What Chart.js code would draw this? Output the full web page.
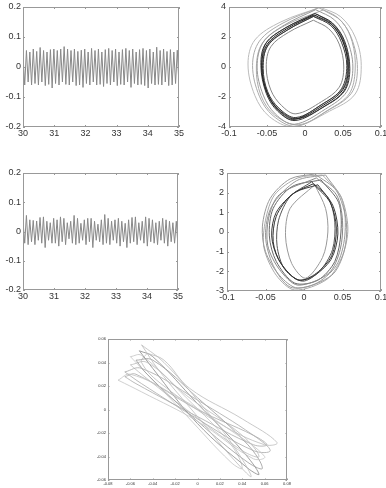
<!DOCTYPE html>
<html>
<head>
<meta charset="utf-8">
<script src="https://cdn.jsdelivr.net/npm/chart.js@4.4.0/dist/chart.umd.min.js"></script>
<style>
  body { margin: 0; background: #fff; }
  #wrap { position: relative; width: 386px; height: 488px; }
  #wrap canvas { position: absolute; left: 0; top: 0; }
</style>
</head>
<body>
<div id="wrap">
  <canvas id="c1" width="386" height="488"></canvas>
  <canvas id="c2" width="386" height="488"></canvas>
  <canvas id="c3" width="386" height="488"></canvas>
  <canvas id="c4" width="386" height="488"></canvas>
  <canvas id="c5" width="386" height="488"></canvas>
</div>
<script>
// tick labels
const tsXTicks = [30, 31, 32, 33, 34, 35];
const tsYTicks = [-0.2, -0.1, 0, 0.1, 0.2];
const phXTicks = [-0.1, -0.05, 0, 0.05, 0.1];
const trYTicks = [-4, -2, 0, 2, 4];
const mrYTicks = [-3, -2, -1, 0, 1, 2, 3];
const bXTicks = [-0.08, -0.06, -0.04, -0.02, 0, 0.02, 0.04, 0.06, 0.08];
const bYTicks = [-0.06, -0.04, -0.02, 0, 0.02, 0.04, 0.06];

// time window of the two time series
const tStart = 30;
const tEnd = 35;

// top-left signal, successive peaks and troughs
const topSignal = [
  0.035,-0.06, 0.055,-0.05, 0.05,-0.06, 0.06,-0.055, 0.052,-0.06, 0.065,-0.05, 0.055,-0.062, 0.05,-0.058, 0.058,-0.07, 0.06,-0.055,
  0.055,-0.06, 0.06,-0.05, 0.068,-0.058, 0.06,-0.06, 0.055,-0.05, 0.06,-0.062, 0.052,-0.06, 0.056,-0.068, 0.06,-0.055, 0.05,-0.06,
  0.062,-0.05, 0.055,-0.06, 0.06,-0.058, 0.05,-0.065, 0.058,-0.055, 0.062,-0.06, 0.055,-0.05, 0.06,-0.062, 0.05,-0.058, 0.058,-0.06,
  0.062,-0.05, 0.055,-0.068, 0.06,-0.055, 0.05,-0.06, 0.058,-0.058, 0.062,-0.062, 0.055,-0.07, 0.06,-0.055, 0.05,-0.06, 0.066,-0.058,
  0.055,-0.06, 0.06,-0.05, 0.052,-0.062, 0.058,-0.06, 0.05,-0.055, 0.056,-0.062
];

// middle-left signal
const midSignal = [
  0.035,-0.04, 0.055,-0.045, 0.04,-0.035, 0.038,-0.045, 0.036,-0.03, 0.048,-0.04, 0.05,-0.055, 0.035,-0.03, 0.03,-0.04, 0.045,-0.04,
  0.04,-0.05, 0.05,-0.035, 0.045,-0.045, 0.03,-0.025, 0.035,-0.04, 0.055,-0.045, 0.045,-0.04, 0.028,-0.03, 0.04,-0.045, 0.045,-0.035,
  0.045,-0.055, 0.035,-0.03, 0.025,-0.035, 0.04,-0.045, 0.058,-0.04, 0.045,-0.045, 0.035,-0.03, 0.04,-0.04, 0.045,-0.05, 0.035,-0.035,
  0.028,-0.055, 0.04,-0.04, 0.048,-0.035, 0.05,-0.045, 0.03,-0.03, 0.035,-0.04, 0.05,-0.05, 0.045,-0.035, 0.04,-0.04, 0.03,-0.045,
  0.035,-0.03, 0.045,-0.04, 0.04,-0.05, 0.035,-0.035, 0.03,-0.04, 0.035,-0.05
];

// top-right phase portrait loops [x, y]: rounded tilted square
const trLoops = [
  [[0.012,3.47],[0.035,2.85],[0.05,1.7],[0.057,0.0],[0.05,-1.5],[0.024,-2.55],[-0.013,-3.47],[-0.035,-2.85],[-0.05,-1.7],[-0.057,0.0],[-0.05,1.5],[-0.024,2.55]],
  [[0.013,3.57],[0.036,2.94],[0.052,1.75],[0.059,-0.1],[0.052,-1.6],[0.025,-2.65],[-0.013,-3.57],[-0.036,-2.94],[-0.051,-1.75],[-0.058,0.1],[-0.052,1.55],[-0.025,2.63]],
  [[0.011,3.37],[0.034,2.76],[0.048,1.65],[0.055,0.1],[0.048,-1.45],[0.023,-2.47],[-0.012,-3.37],[-0.034,-2.76],[-0.049,-1.65],[-0.055,-0.1],[-0.049,1.45],[-0.023,2.47]],
  [[0.016,3.5],[0.038,2.8],[0.052,1.6],[0.058,-0.1],[0.051,-1.6],[0.026,-2.6],[-0.01,-3.45],[-0.033,-2.9],[-0.049,-1.8],[-0.056,-0.1],[-0.049,1.4],[-0.022,2.5]],
  [[0.009,3.42],[0.033,2.9],[0.049,1.8],[0.056,0.2],[0.05,-1.4],[0.022,-2.5],[-0.016,-3.5],[-0.037,-2.8],[-0.051,-1.6],[-0.057,0.1],[-0.051,1.6],[-0.026,2.6]],
  [[0.011,3.12],[0.031,2.56],[0.045,1.53],[0.051,0.0],[0.045,-1.35],[0.022,-2.3],[-0.012,-3.12],[-0.031,-2.56],[-0.045,-1.53],[-0.051,0.0],[-0.045,1.35],[-0.022,2.3]],
  [[0.014,3.82],[0.039,3.13],[0.055,1.87],[0.063,0.0],[0.055,-1.65],[0.027,-2.8],[-0.014,-3.82],[-0.039,-3.13],[-0.055,-1.87],[-0.063,0.0],[-0.055,1.65],[-0.027,2.8]],
  [[0.018,3.95],[0.044,3.25],[0.061,1.95],[0.069,-0.1],[0.061,-1.75],[0.03,-2.9],[-0.012,-3.95],[-0.042,-3.25],[-0.06,-1.95],[-0.069,0.1],[-0.06,1.72],[-0.029,2.93]],
  [[0.02,3.98],[0.047,3.35],[0.066,2.0],[0.074,0.1],[0.066,-1.8],[0.032,-2.95],[-0.016,-3.98],[-0.047,-3.3],[-0.066,-1.9],[-0.075,0.2],[-0.066,1.8],[-0.032,3.0]],
  [[0.024,3.8],[0.048,3.05],[0.062,1.7],[0.066,-0.2],[0.058,-1.8],[0.031,-2.85],[-0.008,-3.85],[-0.04,-3.2],[-0.058,-1.9],[-0.064,0.0],[-0.056,1.6],[-0.027,2.75]]
];
const trColors = ['#222', '#333', '#3a3a3a', '#444', '#555', '#888', '#999', '#aaa', '#bbb', '#aaa'];

// middle-right phase portrait loops [x, y]: lens shape, pointed top and bottom
const mrLoops = [
  [[0.012,2.45],[0.034,1.5],[0.042,0.2],[0.036,-1.2],[0.016,-2.1],[-0.007,-2.45],[-0.03,-1.6],[-0.04,-0.5],[-0.036,0.8],[-0.016,1.9]],
  [[0.018,2.4],[0.038,1.3],[0.044,-0.1],[0.035,-1.4],[0.01,-2.3],[-0.01,-2.4],[-0.033,-1.4],[-0.042,-0.2],[-0.036,1.0],[-0.012,2.0]],
  [[0.01,2.55],[0.032,1.7],[0.04,0.5],[0.037,-0.9],[0.02,-2.0],[-0.002,-2.5],[-0.025,-1.9],[-0.035,-0.7],[-0.033,0.6],[-0.018,1.8]],
  [[0.014,2.4],[0.028,1.2],[0.031,0.0],[0.024,-1.3],[0.002,-2.35],[-0.016,-1.6],[-0.024,-0.2],[-0.018,1.2]],
  [[0.014,2.95],[0.042,2.1],[0.055,0.5],[0.052,-1.0],[0.036,-2.2],[-0.008,-2.85],[-0.032,-2.2],[-0.05,-1.0],[-0.054,0.3],[-0.044,1.7],[-0.018,2.7]],
  [[0.024,2.9],[0.048,1.8],[0.057,0.2],[0.05,-1.2],[0.03,-2.4],[-0.012,-2.95],[-0.036,-2.2],[-0.052,-0.8],[-0.05,0.6],[-0.038,1.9],[-0.008,2.75]],
  [[0.016,2.75],[0.042,1.9],[0.05,0.6],[0.047,-0.9],[0.032,-2.1],[-0.008,-2.7],[-0.032,-1.9],[-0.047,-0.7],[-0.046,0.7],[-0.032,1.9]],
  [[0.028,2.9],[0.05,1.6],[0.053,-0.2],[0.042,-1.7],[0.014,-2.65],[-0.018,-2.8],[-0.04,-1.7],[-0.05,-0.2],[-0.042,1.3],[-0.01,2.6]],
  [[0.022,2.65],[0.045,1.5],[0.048,0.0],[0.04,-1.5],[0.018,-2.45],[-0.012,-2.6],[-0.036,-1.5],[-0.045,-0.2],[-0.04,1.2],[-0.016,2.3]]
];
const mrColors = ['#333', '#3a3a3a', '#555', '#999', '#999', '#aaa', '#888', '#999', '#666'];

// bottom plot loops [x, y]
const bLoops = [
  [[-0.05,0.055],[-0.03,0.04],[0.0,0.008],[0.03,-0.028],[0.048,-0.057],[0.03,-0.04],[0.0,-0.006],[-0.035,0.034]],
  [[-0.071,0.025],[-0.06,0.03],[-0.02,0.012],[0.03,-0.018],[0.06,-0.04],[0.05,-0.042],[0.0,-0.01],[-0.05,0.015]],
  [[-0.045,0.048],[-0.03,0.042],[-0.007,0.018],[0.04,-0.008],[0.071,-0.028],[0.06,-0.03],[0.02,-0.012],[-0.03,0.02],[-0.05,0.04]],
  [[-0.065,0.032],[-0.05,0.035],[0.0,0.008],[0.05,-0.022],[0.065,-0.035],[0.05,-0.035],[0.0,-0.008],[-0.05,0.022]],
  [[-0.055,0.042],[-0.04,0.042],[0.0,0.01],[0.045,-0.03],[0.058,-0.05],[0.045,-0.045],[0.0,-0.01],[-0.045,0.03]],
  [[-0.06,0.038],[-0.045,0.04],[-0.01,0.012],[0.04,-0.022],[0.055,-0.04],[0.04,-0.035],[-0.01,0.0],[-0.05,0.03]],
  [[-0.065,0.028],[-0.055,0.03],[0.0,0.0],[0.05,-0.022],[0.062,-0.03],[0.05,-0.03],[0.0,-0.006],[-0.055,0.022]],
  [[-0.052,0.05],[-0.04,0.045],[0.0,0.005],[0.04,-0.035],[0.055,-0.055],[0.045,-0.05],[0.0,-0.012],[-0.04,0.035]],
  [[-0.06,0.045],[-0.05,0.046],[-0.01,0.01],[0.03,-0.03],[0.04,-0.05],[0.03,-0.045],[-0.01,-0.005],[-0.055,0.04]]
];
const bColors = ['#bbb', '#c4c4c4', '#bbb', '#aaa', '#999', '#bbb', '#aaa', '#888', '#c4c4c4'];

// draws the plot box with matlab style inward ticks
const boxPlugin = {
  id: 'box',
  afterDraw(chart, args, opts) {
    const { ctx, chartArea: a, scales } = chart;
    const len = opts.len || 2;
    ctx.save();
    ctx.strokeStyle = '#999';
    ctx.lineWidth = 1;
    ctx.strokeRect(Math.round(a.left) + 0.5, Math.round(a.top) + 0.5, Math.round(a.width) - 1, Math.round(a.height) - 1);
    ctx.beginPath();
    scales.x.ticks.forEach(t => {
      const px = Math.round(scales.x.getPixelForValue(t.value)) + 0.5;
      ctx.moveTo(px, a.bottom); ctx.lineTo(px, a.bottom - len);
      ctx.moveTo(px, a.top); ctx.lineTo(px, a.top + len);
    });
    scales.y.ticks.forEach(t => {
      const py = Math.round(scales.y.getPixelForValue(t.value)) + 0.5;
      ctx.moveTo(a.left, py); ctx.lineTo(a.left + len, py);
      ctx.moveTo(a.right, py); ctx.lineTo(a.right - len, py);
    });
    ctx.stroke();
    ctx.restore();
  }
};

function axis(min, max, ticks, fontSize, horizontal, size, pad) {
  return {
    type: 'linear',
    min: min,
    max: max,
    afterBuildTicks: s => { s.ticks = ticks.map(v => ({ value: v })); },
    afterFit: s => {
      if (horizontal) s.height = size; else s.width = size;
      s.paddingLeft = 0; s.paddingRight = 0; s.paddingTop = 0; s.paddingBottom = 0;
    },
    grid: { display: false, drawTicks: false, tickLength: 0 },
    border: { display: false },
    ticks: {
      autoSkip: false,
      maxRotation: 0,
      padding: pad,
      color: '#333',
      font: { family: 'Liberation Sans', size: fontSize },
      callback: v => String(v)
    }
  };
}

function makeChart(id, box, datasets, xs, ys, tickLen) {
  // box: plot area [left, top, right, bottom] in page pixels
  new Chart(document.getElementById(id), {
    type: 'scatter',
    data: { datasets: datasets },
    options: {
      responsive: false,
      animation: false,
      events: [],
      layout: {
        padding: { left: box[0] - ys.width, top: box[1], right: 386 - box[2], bottom: 488 - box[3] - xs.height }
      },
      plugins: { legend: { display: false }, tooltip: { enabled: false }, box: { len: tickLen } },
      scales: {
        x: axis(xs.min, xs.max, xs.ticks, xs.font, true, xs.height, xs.pad),
        y: axis(ys.min, ys.max, ys.ticks, ys.font, false, ys.width, ys.pad)
      }
    },
    plugins: [boxPlugin]
  });
}

function signalDataset(values) {
  const n = values.length;
  return [{
    data: values.map((v, i) => ({ x: tStart + (tEnd - tStart) * i / (n - 1), y: v })),
    showLine: true,
    pointRadius: 0,
    borderColor: '#888',
    borderWidth: 1,
    tension: 0
  }];
}

function loopDatasets(loops, colors, width, tension) {
  return loops.map((pts, i) => ({
    data: pts.concat([pts[0]]).map(p => ({ x: p[0], y: p[1] })),
    showLine: true,
    pointRadius: 0,
    borderColor: colors[i],
    borderWidth: width,
    tension: tension
  }));
}

makeChart('c1', [23, 7, 179, 127], signalDataset(topSignal),
  { min: 30, max: 35, ticks: tsXTicks, font: 9, height: 14, pad: 1 },
  { min: -0.2, max: 0.2, ticks: tsYTicks, font: 9, width: 22, pad: 2 }, 2);

makeChart('c2', [229, 7, 381, 127], loopDatasets(trLoops, trColors, 1, 0.35),
  { min: -0.1, max: 0.1, ticks: phXTicks, font: 9, height: 14, pad: 1 },
  { min: -4, max: 4, ticks: trYTicks, font: 9, width: 14, pad: 3 }, 2);

makeChart('c3', [23, 173, 178, 290], signalDataset(midSignal),
  { min: 30, max: 35, ticks: tsXTicks, font: 9, height: 14, pad: 1 },
  { min: -0.2, max: 0.2, ticks: tsYTicks, font: 9, width: 22, pad: 2 }, 2);

makeChart('c4', [227, 173, 381, 291], loopDatasets(mrLoops, mrColors, 1, 0.3),
  { min: -0.1, max: 0.1, ticks: phXTicks, font: 9, height: 14, pad: 1 },
  { min: -3, max: 3, ticks: mrYTicks, font: 9, width: 14, pad: 3 }, 2);

makeChart('c5', [108, 339, 287, 480], loopDatasets(bLoops, bColors, 0.8, 0.4),
  { min: -0.08, max: 0.08, ticks: bXTicks, font: 4, height: 7, pad: 1 },
  { min: -0.06, max: 0.06, ticks: bYTicks, font: 4, width: 14, pad: 2 }, 1.5);
</script>
</body>
</html>
